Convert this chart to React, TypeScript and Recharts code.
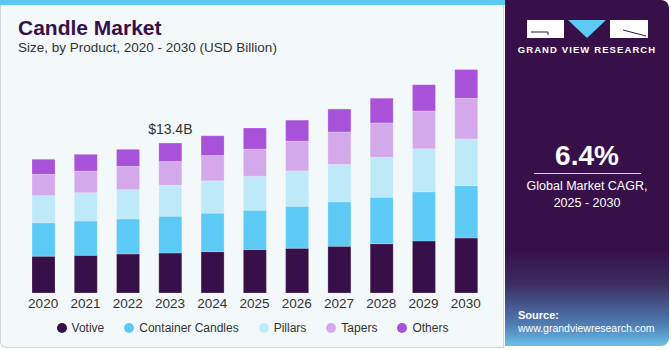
import React from "react";
import { BarChart, Bar, XAxis, YAxis, LabelList } from "recharts";

const years = ["2020", "2021", "2022", "2023", "2024", "2025", "2026", "2027", "2028", "2029", "2030"];
const votive = [3.29, 3.37, 3.49, 3.58, 3.7, 3.88, 4.0, 4.18, 4.41, 4.66, 4.92];
const containerCandles = [2.98, 3.07, 3.13, 3.29, 3.44, 3.53, 3.76, 3.97, 4.15, 4.39, 4.68];
const pillars = [2.44, 2.53, 2.62, 2.78, 2.89, 3.04, 3.16, 3.34, 3.58, 3.85, 4.18];
const tapers = [1.91, 1.94, 2.09, 2.11, 2.27, 2.42, 2.66, 2.9, 3.07, 3.38, 3.64];
const others = [1.34, 1.49, 1.52, 1.65, 1.76, 1.88, 1.88, 2.06, 2.21, 2.35, 2.56];

const series = [
    { key: "votive", name: "Votive", color: "#37104a" },
    { key: "container", name: "Container Candles", color: "#5dcaf6" },
    { key: "pillars", name: "Pillars", color: "#bde9f9" },
    { key: "tapers", name: "Tapers", color: "#d4a9ec" },
    { key: "others", name: "Others", color: "#a752d8" },
];

const data = years.map((year, i) => ({
    year,
    votive: votive[i],
    container: containerCandles[i],
    pillars: pillars[i],
    tapers: tapers[i],
    others: others[i],
}));

const font = "'Liberation Sans', Arial, sans-serif";

// only the 2023 bar carries a total label
const TotalLabel = (props: any) => {
    const { x, y, width, index } = props;
    if (index !== 3) return null;
    return (
        <text x={x + width / 2} y={y - 9} textAnchor="middle" fontSize={14} fill="#333" fontFamily={font}>
            $13.4B
        </text>
    );
};

export default function App() {
    return (
        <div style={{ position: "absolute", left: 0, top: 0, width: 671, height: 350, background: "#fff", fontFamily: font }}>
            {/* left card */}
            <div style={{ position: "absolute", left: 0, top: 0, width: 504, height: 348, background: "#f3f8fb", border: "1px solid #cfd3d6", borderTop: "none", borderRadius: "0 0 0 6px", boxSizing: "border-box" }} />
            <div style={{ position: "absolute", left: 0, top: 0, width: 505, height: 5, background: "#5dcaf6" }} />
            <div style={{ position: "absolute", left: 18, top: 16, fontSize: 21, fontWeight: 700, color: "#37104a" }}>Candle Market</div>
            <div style={{ position: "absolute", left: 18, top: 40, fontSize: 13.5, color: "#333" }}>Size, by Product, 2020 - 2030 (USD Billion)</div>

            <div style={{ position: "absolute", left: 0, top: 0 }}>
                <BarChart width={505} height={350} data={data} margin={{ top: 47, right: 18, left: 22, bottom: 37 }}>
                    <YAxis hide domain={[0, 22]} />
                    <XAxis
                        dataKey="year"
                        height={20}
                        axisLine={false}
                        tickLine={false}
                        tickSize={0}
                        tickMargin={5}
                        tick={{ fill: "#333", fontSize: 13.5, fontFamily: font }}
                        interval={0}
                    />
                    {series.map((s) => (
                        <Bar key={s.key} dataKey={s.key} name={s.name} stackId="a" fill={s.color} barSize={23}
                            stroke="#ffffff" strokeOpacity={0.2} strokeWidth={1} isAnimationActive={false}>
                            {s.key === "others" && <LabelList dataKey="others" content={TotalLabel} />}
                        </Bar>
                    ))}
                </BarChart>
            </div>

            {/* legend */}
            <div style={{ position: "absolute", left: 0, top: 321, width: 505, display: "flex", justifyContent: "center", gap: 20, fontSize: 12, color: "#333" }}>
                {series.map((s) => (
                    <div key={s.key} style={{ display: "flex", alignItems: "center", gap: 5 }}>
                        <div style={{ width: 10, height: 10, borderRadius: 5, background: s.color }} />
                        <span>{s.name}</span>
                    </div>
                ))}
            </div>

            {/* right panel */}
            <div style={{ position: "absolute", left: 505, top: 0, width: 164, height: 346, borderRadius: "0 8px 8px 0", overflow: "hidden", background: "linear-gradient(180deg, #37104a 0%, #37104a 72%, #3c2c62 82%, #4f7fb6 94%, #6cc0e8 100%)" }}>
                <div style={{ position: "absolute", left: 22, top: 20, width: 37, height: 18, background: "#ffffff" }} />
                <div style={{ position: "absolute", left: 105, top: 20, width: 38, height: 18, background: "#ffffff" }} />
                <svg width={164} height={60} style={{ position: "absolute", left: 0, top: 0 }}>
                    <path d="M 26 32 L 43 32 L 43 35" stroke="#37104a" strokeWidth={1} fill="none" />
                    <polygon points="63,20 101,20 82,38" fill="#5dcaf6" />
                    <line x1={118} y1={30} x2={141} y2={36} stroke="#37104a" strokeWidth={1} />
                </svg>
                <div style={{ position: "absolute", left: 0, top: 44, width: 164, textAlign: "center", color: "#fff", fontSize: 9.5, fontWeight: 700, letterSpacing: 1.1 }}>GRAND VIEW RESEARCH</div>
                <div style={{ position: "absolute", left: 0, top: 140, width: 164, textAlign: "center", color: "#fff", fontSize: 28, fontWeight: 700 }}>6.4%</div>
                <div style={{ position: "absolute", left: 29, top: 173, width: 107, height: 1, background: "#d8d0de" }} />
                <div style={{ position: "absolute", left: 0, top: 178, width: 164, textAlign: "center", color: "#fff", fontSize: 12.5, lineHeight: "17px" }}>
                    Global Market CAGR,<br />2025 - 2030
                </div>
                <div style={{ position: "absolute", left: 13, top: 309, color: "#fff", fontSize: 11, fontWeight: 700 }}>Source:</div>
                <div style={{ position: "absolute", left: 13, top: 322, color: "#fff", fontSize: 10.5 }}>www.grandviewresearch.com</div>
            </div>
        </div>
    );
}
